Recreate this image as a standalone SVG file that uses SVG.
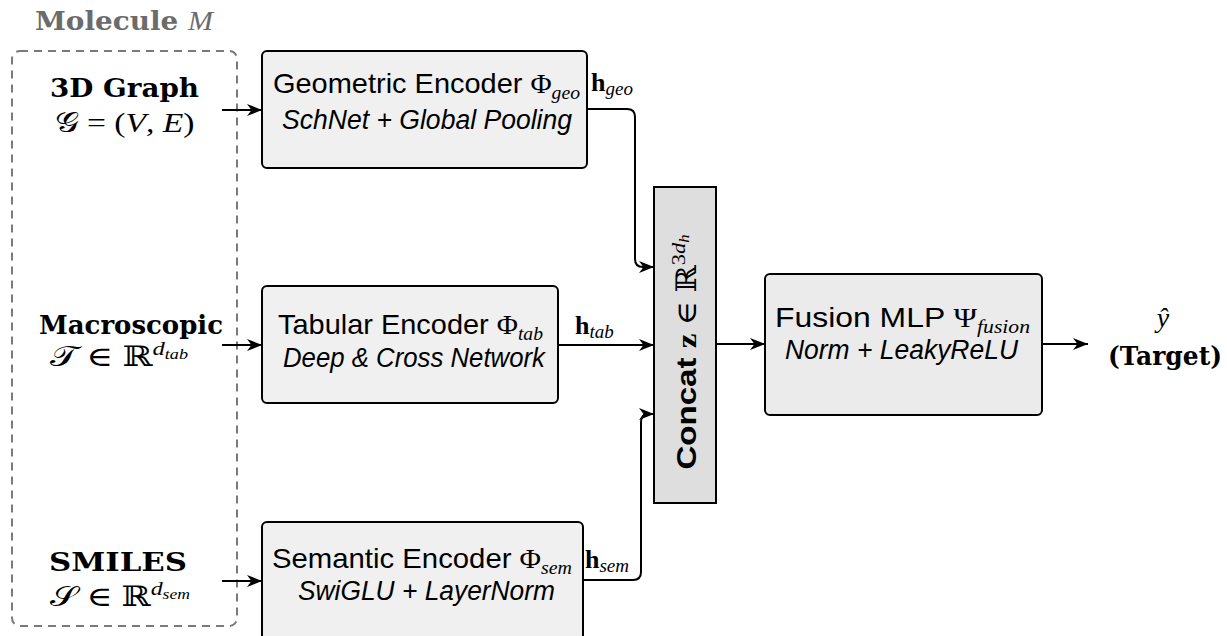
<svg xmlns="http://www.w3.org/2000/svg" width="1227" height="636" viewBox="0 0 1227 636">
  <style>
    .sans { font-family: "Liberation Sans", Arial, sans-serif; font-size: 28px; fill: #000; }
    .sit { font-family: "Liberation Sans", Arial, sans-serif; font-style: italic; font-size: 27px; fill: #000; }
    .bf { font-family: "DejaVu Serif", "Liberation Serif", serif; font-weight: bold; font-size: 26px; fill: #000; }
    .mi { font-family: "Liberation Serif", "DejaVu Serif", serif; font-style: italic; font-weight: normal; }
    .mr { font-family: "Liberation Serif", "DejaVu Serif", serif; font-style: normal; font-weight: normal; }
    .bb { font-family: "DejaVu Serif", serif; font-style: normal; font-weight: normal; }
    .cal { font-family: "DejaVu Serif", "DejaVu Sans", "Noto Sans", serif; font-style: normal; }
    .hb { font-family: "Liberation Serif", serif; font-weight: bold; font-style: normal; }
    .box { fill: #f0f0f0; stroke: #000; stroke-width: 2; }
    .edge { fill: none; stroke: #000; stroke-width: 2; marker-end: url(#arr); }
  </style>
  <defs>
    <marker id="arr" markerUnits="userSpaceOnUse" markerWidth="16" markerHeight="14" refX="15" refY="6.5" orient="auto" viewBox="0 0 16 13">
      <path d="M0,0.5 L15,6.5 L0,12.5 L4.5,6.5 z" fill="#000"/>
    </marker>
  </defs>

  <!-- molecule input container -->
  <g id="molecule">
    <rect x="12" y="51" width="225" height="575" rx="8" fill="none" stroke="#7a7a7a" stroke-width="2" stroke-dasharray="8,6"/>
    <text x="35" y="30" textLength="178" lengthAdjust="spacingAndGlyphs" class="bf" style="fill:#6b6b6b">Molecule <tspan class="mi" font-size="28">M</tspan></text>
  </g>

  <g id="input-graph">
    <text x="124.5" y="97" text-anchor="middle" textLength="149" lengthAdjust="spacingAndGlyphs" class="bf">3D Graph</text>
    <text x="124.5" y="132" text-anchor="middle" textLength="140" lengthAdjust="spacingAndGlyphs" class="mr" font-size="28"><tspan class="cal">𝒢</tspan> = (<tspan class="mi">V</tspan>, <tspan class="mi">E</tspan>)</text>
  </g>

  <g id="input-macro">
    <text x="131" y="334" text-anchor="middle" textLength="184" lengthAdjust="spacingAndGlyphs" class="bf">Macroscopic</text>
    <text x="50" y="366" textLength="138" lengthAdjust="spacingAndGlyphs" class="mr" font-size="28"><tspan class="cal">𝒯</tspan> ∈ <tspan class="bb">ℝ</tspan><tspan class="mi" font-size="19" dy="-11">d</tspan><tspan class="mi" font-size="14" dy="4">tab</tspan></text>
  </g>

  <g id="input-smiles">
    <text x="118" y="571" text-anchor="middle" textLength="138" lengthAdjust="spacingAndGlyphs" class="bf">SMILES</text>
    <text x="50" y="606" textLength="140" lengthAdjust="spacingAndGlyphs" class="mr" font-size="28"><tspan class="cal">𝒮</tspan> ∈ <tspan class="bb">ℝ</tspan><tspan class="mi" font-size="19" dy="-11">d</tspan><tspan class="mi" font-size="14" dy="4">sem</tspan></text>
  </g>

  <g id="enc-geo">
    <rect class="box" x="262" y="51" width="325" height="117" rx="5"/>
    <text x="273" y="93" textLength="307" lengthAdjust="spacingAndGlyphs" class="sans">Geometric Encoder <tspan class="mr">Φ</tspan><tspan class="mi" font-size="19" dy="6">geo</tspan></text>
    <text x="282" y="129" textLength="290" lengthAdjust="spacingAndGlyphs" class="sit">SchNet + Global Pooling</text>
  </g>

  <g id="enc-tab">
    <rect class="box" x="262" y="286" width="296" height="117" rx="5"/>
    <text x="278" y="334" textLength="265" lengthAdjust="spacingAndGlyphs" class="sans">Tabular Encoder <tspan class="mr">Φ</tspan><tspan class="mi" font-size="19" dy="6">tab</tspan></text>
    <text x="283" y="367" textLength="262" lengthAdjust="spacingAndGlyphs" class="sit">Deep &amp; Cross Network</text>
  </g>

  <g id="enc-sem">
    <rect class="box" x="262" y="522" width="321" height="118" rx="5"/>
    <text x="272" y="568" textLength="300" lengthAdjust="spacingAndGlyphs" class="sans">Semantic Encoder <tspan class="mr">Φ</tspan><tspan class="mi" font-size="19" dy="6">sem</tspan></text>
    <text x="298" y="600" textLength="257" lengthAdjust="spacingAndGlyphs" class="sit">SwiGLU + LayerNorm</text>
  </g>

  <g id="concat">
    <rect x="654" y="187" width="62" height="316" fill="#dedede" stroke="#000" stroke-width="2"/>
    <text transform="translate(696,352) rotate(-90)" text-anchor="middle" textLength="235" lengthAdjust="spacingAndGlyphs" class="sans" font-weight="bold">Concat <tspan class="hb">z</tspan><tspan class="mr"> ∈ </tspan><tspan class="bb">ℝ</tspan><tspan class="mr" font-size="19" dy="-11">3</tspan><tspan class="mi" font-size="19">d</tspan><tspan class="mi" font-size="14" dy="4">h</tspan></text>
  </g>

  <g id="fusion">
    <rect x="765" y="274" width="277" height="141" rx="5" fill="#ebebeb" stroke="#000" stroke-width="2"/>
    <text x="775" y="327" textLength="255" lengthAdjust="spacingAndGlyphs" class="sans">Fusion MLP <tspan class="mr">Ψ</tspan><tspan class="mi" font-size="19" dy="6">fusion</tspan></text>
    <text x="785" y="359" textLength="233" lengthAdjust="spacingAndGlyphs" class="sit">Norm + LeakyReLU</text>
  </g>

  <g id="target">
    <text x="1163" y="327" text-anchor="middle" class="mi" font-size="28">ŷ</text>
    <text x="1165" y="365" text-anchor="middle" textLength="114" lengthAdjust="spacingAndGlyphs" class="bf">(Target)</text>
  </g>

  <g id="connectors">
    <path class="edge" d="M222,110 H262"/>
    <path class="edge" d="M222,345 H262"/>
    <path class="edge" d="M222,581 H262"/>
    <path class="edge" d="M587,109 H627 Q635,109 635,117 V259 Q635,267 643,267 H654"/>
    <path class="edge" d="M558,345 H654"/>
    <path class="edge" d="M583,580 H633 Q641,580 641,572 V422 Q641,414 649,414 H654"/>
    <path class="edge" d="M716,344 H765"/>
    <path class="edge" d="M1042,344 H1088"/>
    <text x="591" y="91" class="hb" font-size="26">h<tspan class="mi" font-size="19" dy="4">geo</tspan></text>
    <text x="575" y="334" class="hb" font-size="26">h<tspan class="mi" font-size="19" dy="4">tab</tspan></text>
    <text x="585" y="568" class="hb" font-size="26">h<tspan class="mi" font-size="19" dy="4">sem</tspan></text>
  </g>
</svg>
